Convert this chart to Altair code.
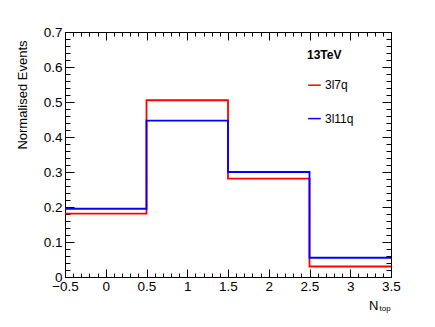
import altair as alt
import pandas as pd

# ---- data ----
edges = [-0.5, 0.5, 1.5, 2.5, 3.5]
series = ["3l7q", "3l11q"]
red_vals = [0.181, 0.505, 0.281, 0.030]
blue_vals = [0.195, 0.447, 0.300, 0.055]
colors = ["#ff0000", "#0000ff"]

x_major = [-0.5, 0, 0.5, 1, 1.5, 2, 2.5, 3, 3.5]
x_minor = [round(-0.5 + 0.1 * i, 2) for i in range(41)]
y_major = [0, 0.1, 0.2, 0.3, 0.4, 0.5, 0.6, 0.7]
y_minor = [round(0.02 * i, 2) for i in range(36)]

rows = []
for name, vals in zip(series, [red_vals, blue_vals]):
    ys_ = vals + [vals[-1]]
    for e, v in zip(edges, ys_):
        rows.append({"x": e, "y": v, "s": name})
df = pd.DataFrame(rows)

W, H = 326, 245
FONT = "Liberation Sans"
xs = alt.Scale(domain=[-0.5, 3.5], nice=False, zero=False)
ys = alt.Scale(domain=[0, 0.7], nice=False, zero=False)


def tick_axis(orient, values, size, offset):
    return alt.Axis(orient=orient, values=values, tickSize=size, offset=offset,
                    labels=False, domain=False, grid=False, title=None,
                    tickColor="black", tickWidth=1)


lines = alt.Chart(df).mark_line(interpolate="step-after", strokeWidth=1.8).encode(
    x=alt.X("x:Q", scale=xs, axis=alt.Axis(
        orient="bottom", values=x_major, format="~g", tickSize=0, labelPadding=2,
        labelFont=FONT, labelFontSize=13.5, labelColor="black", labelFlush=False,
        labelOverlap=False, labelBound=False, domain=False, grid=False, title=None)),
    y=alt.Y("y:Q", scale=ys, axis=alt.Axis(
        orient="left", values=y_major, format="~g", tickSize=0, labelPadding=3,
        labelFont=FONT, labelFontSize=13.5, labelColor="black", labelFlush=False,
        labelOverlap=False, labelBound=False, domain=False, grid=False,
        title="Normalised Events", titleFont=FONT, titleFontSize=13,
        titleFontWeight="normal", titleColor="black", titleAngle=270,
        titleAlign="right", titleBaseline="alphabetic", titleX=-39, titleY=8)),
    color=alt.Color("s:N", scale=alt.Scale(domain=series, range=colors),
                    legend=alt.Legend(
                        orient="none", legendX=242, legendY=18, padding=0,
                        title="13TeV", titleFont=FONT, titleFontSize=12,
                        titleFontWeight="bold", titleColor="black", titlePadding=15.7,
                        labelFont=FONT, labelFontSize=12, labelColor="black",
                        labelOffset=3, symbolType="stroke", symbolSize=160,
                        symbolStrokeWidth=1.5, rowPadding=19.4)),
)


def ticks(xo, xoff, xv, xsz, yo, yoff, yv, ysz):
    return alt.Chart(df).mark_point(opacity=0).encode(
        x=alt.X("x:Q", scale=xs, axis=tick_axis(xo, xv, xsz, xoff)),
        y=alt.Y("y:Q", scale=ys, axis=tick_axis(yo, yv, ysz, yoff)),
    )


t1 = ticks("top", -H, x_major, 8, "right", -W, y_major, 9)
t2 = ticks("top", -H, x_minor, 4, "right", -W, y_minor, 5)
t3 = ticks("bottom", -H, x_major, 8, "left", -W, y_major, 9)
t4 = ticks("bottom", -H, x_minor, 4, "left", -W, y_minor, 5)

label_df = pd.DataFrame({"t": ["N"]})
sub_df = pd.DataFrame({"t": ["top"]})
n_txt = alt.Chart(label_df).mark_text(font=FONT, fontSize=13, fontWeight="normal",
                                      color="black", align="left",
                                      baseline="alphabetic").encode(
    text="t:N", x=alt.value(304), y=alt.value(277.5))
sub_txt = alt.Chart(sub_df).mark_text(font=FONT, fontSize=8, fontWeight="normal",
                                      color="black", align="left",
                                      baseline="alphabetic").encode(
    text="t:N", x=alt.value(314.5), y=alt.value(279))

chart = alt.layer(lines, t1, t2, t3, t4, n_txt, sub_txt).resolve_axis(
    x="independent", y="independent"
).properties(
    width=W, height=H,
    autosize=alt.AutoSizeParams(type="none"),
    padding={"left": 57, "top": 24, "right": 36, "bottom": 42},
    background="white",
).configure_view(stroke="black", strokeWidth=1)

chart.save("out.html", embed_options={"renderer": "svg", "actions": False})
